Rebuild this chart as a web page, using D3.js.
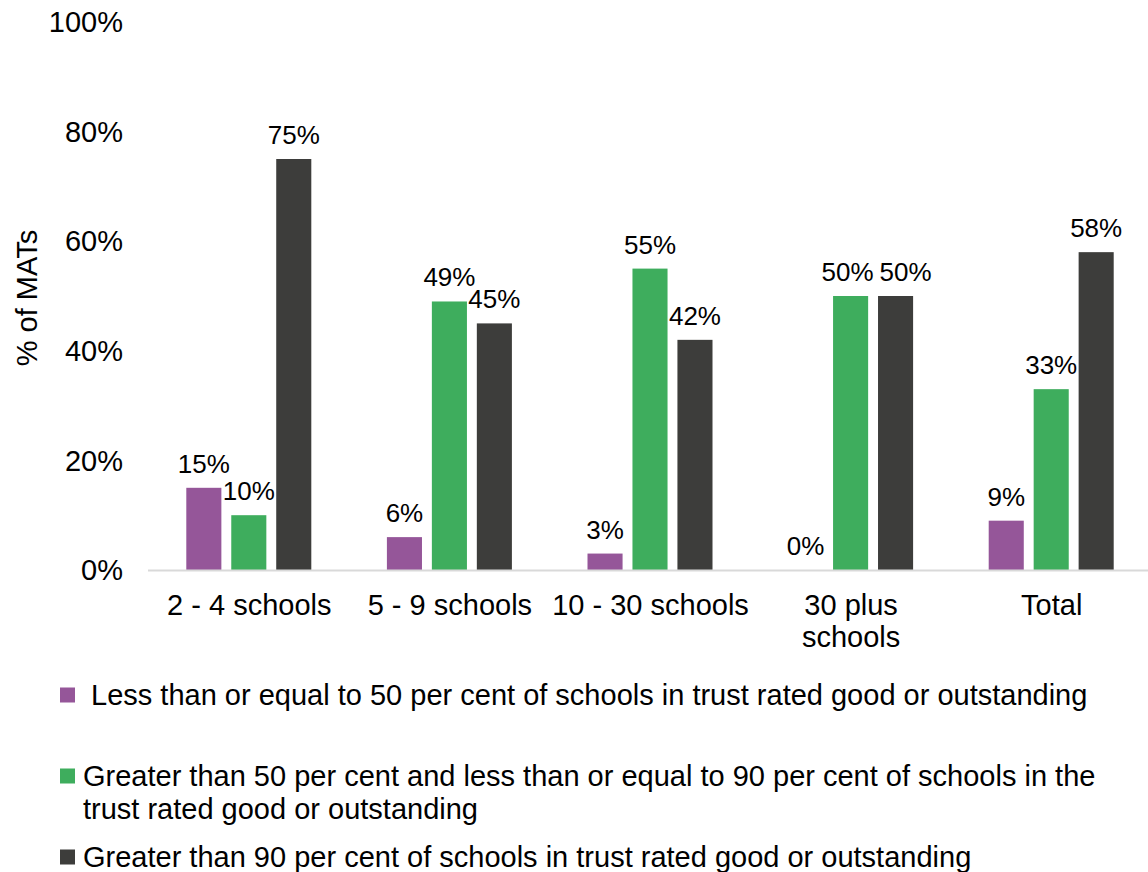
<!DOCTYPE html>
<html><head><meta charset="utf-8">
<script src="https://cdn.jsdelivr.net/npm/d3@7"></script>
<style>body{margin:0;background:#fff}svg{display:block;font-family:"Liberation Sans",Arial,sans-serif}</style>
</head><body><svg id="c" width="1148" height="872"></svg>
<script>
const categories = [["2 - 4 schools"],["5 - 9 schools"],["10 - 30 schools"],["30 plus","schools"],["Total"]];
const seriesNames = [" Less than or equal to 50 per cent of schools in trust rated good or outstanding",
  "Greater than 50 per cent and less than or equal to 90 per cent of schools in the|trust rated good or outstanding",
  "Greater than 90 per cent of schools in trust rated good or outstanding"];
const lowValues = [15, 6, 3, 0, 9];
const midValues = [10, 49, 55, 50, 33];
const highValues = [75, 45, 42, 50, 58];
const yTicks = [0, 20, 40, 60, 80, 100];
const colors = ["#955699", "#3EAD5D", "#3D3D3B"];

const series = [lowValues, midValues, highValues];
const svg = d3.select("#c");
const FS = 29, LFS = 26;
const x = d3.scaleBand().domain(categories.map((d,i)=>i)).range([149, 1152]);
const y = d3.scaleLinear().domain([0, 100]).range([570, 22]);
const inner = d3.scaleBand().domain([0,1,2]).range([-63, 62]).paddingInner(0.22);
// label nudges (series, category) -> dx, to keep adjacent labels apart as in the original
const nudge = (s, i) => (i === 3 ? (s === 1 ? -3 : (s === 2 ? 10 : 0)) : 0);

// y tick labels
svg.append("g").selectAll("text").data(yTicks).join("text")
  .attr("x", 123).attr("y", d => y(d)).attr("dy", "0.35em")
  .attr("text-anchor", "end").attr("font-size", FS).attr("fill", "#000")
  .text(d => d + "%");

// axis title
svg.append("text").attr("transform", "translate(37,298) rotate(-90)")
  .attr("text-anchor", "middle").attr("font-size", FS).text("% of MATs");

// bars
series.forEach((vals, s) => {
  const g = svg.append("g");
  g.selectAll("rect").data(vals).join("rect")
    .attr("x", (d,i) => x(i) + x.bandwidth()/2 + inner(s))
    .attr("width", inner.bandwidth())
    .attr("y", d => y(d)).attr("height", d => y(0) - y(d))
    .attr("fill", colors[s]);
  g.selectAll("text").data(vals).join("text")
    .attr("x", (d,i) => x(i) + x.bandwidth()/2 + inner(s) + inner.bandwidth()/2 + nudge(s, i))
    .attr("y", d => y(d) - 15)
    .attr("text-anchor", "middle").attr("font-size", LFS).attr("fill", "#000")
    .text(d => d + "%");
});

// baseline
svg.append("line").attr("x1", 148).attr("x2", 1152).attr("y1", y(0)+0.5).attr("y2", y(0)+0.5)
  .attr("stroke", "#d9d9d9").attr("stroke-width", 2);

// category labels
categories.forEach((lines, i) => {
  const t = svg.append("text").attr("text-anchor", "middle").attr("font-size", FS);
  lines.forEach((l, k) => t.append("tspan").attr("x", x(i) + x.bandwidth()/2)
    .attr("y", 605 + k*32).attr("dy", "0.35em").text(l));
});

// legend
const legY = [695, 776, 857];
seriesNames.forEach((name, s) => {
  svg.append("rect").attr("x", 60).attr("y", legY[s]-7.5).attr("width", 15).attr("height", 15).attr("fill", colors[s]);
  const t = svg.append("text").attr("font-size", FS).attr("xml:space", "preserve");
  name.split("|").forEach((l, k) => t.append("tspan").attr("x", 83).attr("y", legY[s] + k*33)
    .attr("dy", "0.35em").text(l));
});
</script></body></html>
